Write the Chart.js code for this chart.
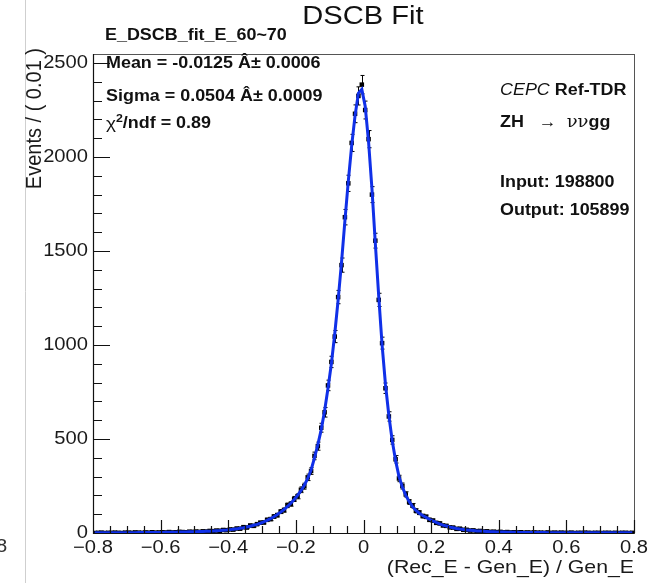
<!DOCTYPE html>
<html>
<head>
<meta charset="utf-8">
<script src="https://cdn.jsdelivr.net/npm/chart.js@4.4.1/dist/chart.umd.min.js"></script>
<style>
  html, body { margin: 0; padding: 0; background: #fff; }
  canvas { display: block; }
</style>
</head>
<body>
<canvas id="dscb" width="651" height="583"></canvas>
<script>
// histogram: 160 bins of 0.01 between -0.8 and 0.8
const X_MIN = -0.8, X_MAX = 0.8, BIN = 0.01, Y_MAX = 2548;

const counts = [
  0, 1, 2, 0, 1, 1, 2, 1, 0, 2,
  2, 1, 3, 2, 1, 3, 2, 4, 2, 3,
  4, 3, 5, 3, 4, 6, 5, 4, 7, 6,
  8, 6, 9, 8, 11, 10, 13, 12, 16, 15,
  19, 18, 24, 23, 31, 29, 40, 38, 47, 55,
  56, 70, 74, 88, 95, 114, 122, 147, 155, 181,
  196, 230, 249, 296, 330, 410, 462, 560, 642, 785,
  910, 1045, 1255, 1425, 1680, 1860, 2075, 2230, 2325, 2385,
  2250, 2095, 1800, 1555, 1240, 1010, 770, 620, 495, 392,
  290, 250, 205, 165, 145, 118, 108, 90, 86, 70,
  66, 54, 51, 40, 38, 30, 29, 22, 23, 17,
  17, 13, 14, 10, 11, 8, 9, 6, 7, 5,
  6, 4, 5, 3, 4, 3, 4, 2, 3, 2,
  3, 2, 2, 1, 3, 1, 2, 1, 2, 1,
  1, 2, 0, 1, 1, 2, 1, 0, 1, 1,
  0, 1, 1, 0, 1, 0, 1, 1, 0, 1
];

const fitCurve = [
  1, 1, 1, 1, 1.1, 1.1, 1.2, 1.3, 1.4, 1.5,
  1.6, 1.7, 1.8, 2, 2.1, 2.3, 2.4, 2.6, 2.8, 3,
  3.2, 3.5, 3.7, 4, 4.3, 4.7, 5, 5.5, 6, 6.5,
  7, 7.6, 8.3, 9, 9.9, 11, 12, 13, 14.5, 16,
  18, 20, 22, 25, 28, 32, 36, 41, 46, 52,
  59, 67, 76, 86, 98, 111, 125, 141, 158, 178,
  200, 225, 254, 290, 335, 400, 470, 550, 650, 770,
  900, 1060, 1240, 1440, 1660, 1870, 2060, 2220, 2340, 2360,
  2270, 2080, 1830, 1540, 1260, 1000, 790, 625, 490, 385,
  300, 245, 200, 168, 140, 120, 105, 93, 83, 73,
  64, 56, 49, 42, 37, 32, 28, 24, 21, 18.5,
  16.3, 14.4, 12.7, 11.2, 10, 8.9, 8, 7.2, 6.5, 5.9,
  5.4, 4.9, 4.5, 4.1, 3.8, 3.5, 3.2, 3, 2.8, 2.6,
  2.4, 2.3, 2.1, 2, 1.9, 1.8, 1.7, 1.6, 1.5, 1.4,
  1.35, 1.3, 1.25, 1.2, 1.15, 1.1, 1.05, 1, 1, 0.95,
  0.9, 0.9, 0.85, 0.85, 0.8, 0.8, 0.75, 0.75, 0.7, 0.7
];

const xTicks = [-0.8, -0.6, -0.4, -0.2, 0, 0.2, 0.4, 0.6, 0.8];
const xTickLabels = ["\u22120.8", "\u22120.6", "\u22120.4", "\u22120.2", "0", "0.2", "0.4", "0.6", "0.8"];
const yTicks = [0, 500, 1000, 1500, 2000, 2500];
const yTickLabels = ["0", "500", "1000", "1500", "2000", "2500"];

const FONT = '"Liberation Sans", Arial, sans-serif';
const SX = 1.12; // reference text looks stretched sideways

const centers = counts.map((_, i) => X_MIN + BIN * (i + 0.5));

function txt(ctx, s, x, y, font, align, color) {
  ctx.save();
  ctx.font = font;
  ctx.fillStyle = color || "#111";
  ctx.textAlign = align || "left";
  ctx.textBaseline = "middle";
  ctx.translate(x, y);
  ctx.scale(SX, 1);
  ctx.fillText(s, 0, 0);
  const w = ctx.measureText(s).width * SX;
  ctx.restore();
  return w;
}

function runs(ctx, parts, x, y) {
  parts.forEach(p => {
    x += txt(ctx, p[0], x, y + (p[2] || 0), p[1]);
  });
}

const rootStyle = {
  id: "rootStyle",
  beforeDatasetsDraw(chart) {
    const ctx = chart.ctx, a = chart.chartArea;
    const xs = chart.scales.x, ys = chart.scales.y;
    ctx.save();
    // stray border from the cropped screenshot
    ctx.strokeStyle = "#cfcfcf";
    ctx.lineWidth = 1;
    ctx.beginPath(); ctx.moveTo(25.5, 0); ctx.lineTo(25.5, 583); ctx.stroke();
    // frame
    ctx.strokeStyle = "#555";
    ctx.strokeRect(a.left + 0.5, a.top + 0.5, a.right - a.left, a.bottom - a.top);
    // error bars
    ctx.strokeStyle = "#000";
    ctx.lineWidth = 1;
    counts.forEach((n, i) => {
      if (n <= 0) return;
      const e = Math.sqrt(n);
      const px = Math.round(xs.getPixelForValue(centers[i])) + 0.5;
      const p1 = ys.getPixelForValue(n + e), p2 = ys.getPixelForValue(Math.max(n - e, 0));
      ctx.beginPath();
      ctx.moveTo(px, p1); ctx.lineTo(px, p2);
      ctx.moveTo(px - 2, p1); ctx.lineTo(px + 2, p1);
      ctx.moveTo(px - 2, p2); ctx.lineTo(px + 2, p2);
      ctx.stroke();
    });
    ctx.restore();
  },
  afterDraw(chart) {
    const ctx = chart.ctx, a = chart.chartArea;
    const xs = chart.scales.x, ys = chart.scales.y;
    ctx.save();
    ctx.strokeStyle = "#111";
    ctx.lineWidth = 1.2;
    ctx.beginPath();
    ctx.moveTo(a.left + 0.5, a.top); ctx.lineTo(a.left + 0.5, a.bottom + 0.5);
    ctx.lineTo(a.right, a.bottom + 0.5);
    // y ticks, major 500, minor 100
    for (let v = 0; v <= Y_MAX; v += 100) {
      const py = Math.round(ys.getPixelForValue(v)) + 0.5;
      const len = v % 500 === 0 ? 17 : 9;
      ctx.moveTo(a.left, py); ctx.lineTo(a.left + len, py);
    }
    // x ticks, major 0.2, minor 0.05
    for (let k = 0; k <= 32; k++) {
      const v = X_MIN + k * 0.05;
      const px = Math.round(xs.getPixelForValue(v)) + 0.5;
      const len = k % 4 === 0 ? 13 : 7;
      ctx.moveTo(px, a.bottom); ctx.lineTo(px, a.bottom - len);
    }
    ctx.stroke();
    ctx.restore();

    const tickFont = "18px " + FONT;
    yTicks.forEach((v, i) => txt(ctx, yTickLabels[i], a.left - 5, ys.getPixelForValue(v), tickFont, "right", "#1a1a1a"));
    xTicks.forEach((v, i) => txt(ctx, xTickLabels[i], xs.getPixelForValue(v), a.bottom + 15, tickFont, "center", "#1a1a1a"));

    // axis titles
    txt(ctx, "(Rec_E - Gen_E) / Gen_E", a.right, 568, "19px " + FONT, "right", "#1a1a1a");
    ctx.save();
    ctx.translate(35, 48);
    ctx.rotate(-Math.PI / 2);
    ctx.scale(1, 1.1);
    ctx.font = "20px " + FONT;
    ctx.fillStyle = "#1a1a1a";
    ctx.textAlign = "right";
    ctx.textBaseline = "middle";
    ctx.fillText("Events / ( 0.01 )", 0, 0);
    ctx.restore();

    // title and labels
    txt(ctx, "DSCB Fit", 363, 17, "26px " + FONT, "center");
    const B = "bold 16px " + FONT, N = "16px " + FONT;
    txt(ctx, "E_DSCB_fit_E_60~70", 105, 36, B);
    txt(ctx, "Mean = -0.0125 \u00C2\u00B1 0.0006", 106, 64, B);
    txt(ctx, "Sigma = 0.0504 \u00C2\u00B1 0.0009", 106, 97, B);
    runs(ctx, [["\u03C7", "17px " + FONT], ["2", "bold 11px " + FONT, -5], ["/ndf = 0.89", B]], 106, 124);

    runs(ctx, [["CEPC", "italic 16px " + FONT], [" Ref-TDR", B]], 500, 91);
    runs(ctx, [["ZH", B], ["   \u2192  ", N], ["\u03BD\u03BD", '16px "DejaVu Serif", serif'], ["gg", B]], 500, 123);
    txt(ctx, "Input: 198800", 500, 183, B);
    txt(ctx, "Output: 105899", 500, 211, B);

    // clipped leftover label at the far left
    txt(ctx, "8", -4, 547, tickFont, "left", "#333");
  }
};

new Chart(document.getElementById("dscb"), {
  type: "scatter",
  data: {
    datasets: [
      {
        label: "fit",
        data: fitCurve.map((v, i) => ({ x: centers[i], y: v })),
        showLine: true,
        borderColor: "#1030e8",
        borderWidth: 3,
        pointRadius: 0,
        order: 0
      },
      {
        label: "data",
        data: counts.map((v, i) => ({ x: centers[i], y: v })),
        pointStyle: "rect",
        pointRadius: 3.2,
        backgroundColor: "#000",
        borderWidth: 0,
        order: 1
      }
    ]
  },
  options: {
    responsive: false,
    animation: false,
    layout: { padding: { left: 93, right: 17, top: 54, bottom: 50 } },
    plugins: { legend: { display: false }, tooltip: { enabled: false } },
    scales: {
      x: { type: "linear", min: X_MIN, max: X_MAX, display: false },
      y: { type: "linear", min: 0, max: Y_MAX, display: false }
    }
  },
  plugins: [rootStyle]
});
</script>
</body>
</html>
